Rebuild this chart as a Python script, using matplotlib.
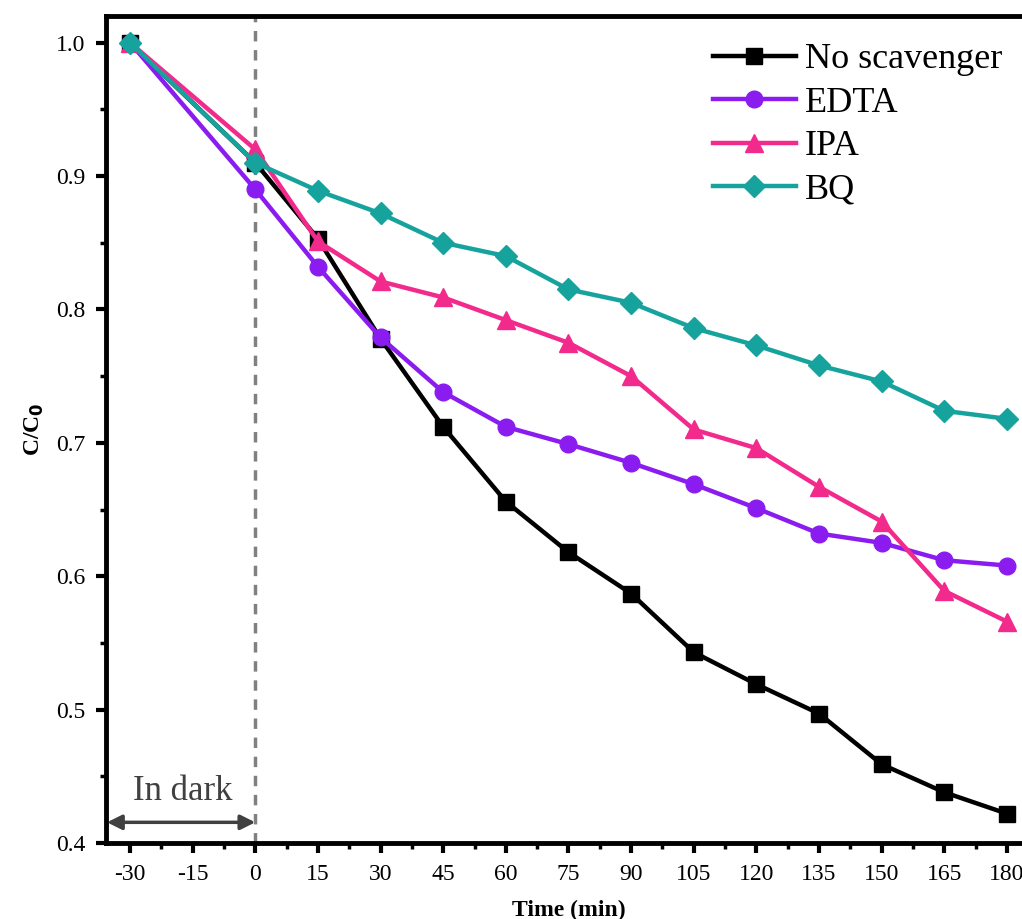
import numpy as np
import matplotlib.pyplot as plt
from matplotlib.ticker import MultipleLocator

plt.rcParams['font.family'] = ['Liberation Serif', 'DejaVu Serif']
plt.rcParams['axes.unicode_minus'] = False

# time axis (min)
time = [-30, 0, 15, 30, 45, 60, 75, 90, 105, 120, 135, 150, 165, 180]
xticks = [-30, -15, 0, 15, 30, 45, 60, 75, 90, 105, 120, 135, 150, 165, 180]

# C/C0 for each scavenger
no_scav = [1.0, 0.910, 0.853, 0.778, 0.712, 0.656, 0.618, 0.587, 0.543, 0.519, 0.497, 0.459, 0.438, 0.422]
edta = [1.0, 0.890, 0.832, 0.779, 0.738, 0.712, 0.699, 0.685, 0.669, 0.651, 0.632, 0.625, 0.612, 0.608]
ipa = [1.0, 0.920, 0.851, 0.821, 0.809, 0.792, 0.775, 0.750, 0.710, 0.696, 0.667, 0.641, 0.589, 0.566]
bq = [1.0, 0.910, 0.889, 0.872, 0.850, 0.840, 0.815, 0.805, 0.786, 0.773, 0.758, 0.746, 0.724, 0.718]

labels = ['No scavenger', 'EDTA', 'IPA', 'BQ']
colors = ['#000000', '#8B1CF0', '#F22A8C', '#17A39D']
markers = ['s', 'o', '^', 'D']

fig = plt.figure(figsize=(10.22, 9.19), dpi=100)
ax = fig.add_axes([106/1022, 76/919, 926/1022, 827/919])

series = [no_scav, edta, ipa, bq]
sizes = [11, 12, 13, 11]
for y, lab, c, m, ms in zip(series, labels, colors, markers, sizes):
    ax.plot(time, y, color=c, marker=m, markersize=ms, lw=3.2, label=lab,
            markeredgecolor=c, clip_on=False)

# light/dark boundary
ax.axvline(0, color='#808080', ls=(0, (3, 2.5)), lw=2.5, zorder=0)
ax.annotate('', xy=(-35.5, 0.4155), xytext=(0, 0.4155),
            arrowprops=dict(arrowstyle='<|-|>', color='#404040', lw=2.5,
                            mutation_scale=22, shrinkA=0, shrinkB=0))
ax.text(-17.3, 0.426, 'In dark', color='#404040', fontsize=25, ha='center', va='bottom')

ax.set_xlim(-35.75, 186)
ax.set_ylim(0.4, 1.02)
ax.set_xticks(xticks)
ax.xaxis.set_minor_locator(MultipleLocator(7.5))
ax.set_yticks([0.4, 0.5, 0.6, 0.7, 0.8, 0.9, 1.0])
ax.yaxis.set_minor_locator(MultipleLocator(0.05))
ax.tick_params(which='major', direction='out', length=7, width=3, labelsize=17)
ax.tick_params(which='minor', direction='out', length=4, width=2.5)
ax.tick_params(axis='x', pad=8)
ax.tick_params(axis='y', pad=8)
ax.set_yticklabels(['0.4', '0.5', '0.6', '0.7', '0.8', '0.9', '1.0'])
for s in ax.spines.values():
    s.set_linewidth(3.5)

ax.set_xlabel('Time (min)', fontsize=17, fontweight='bold', labelpad=11)
ax.set_ylabel('C/C$_\\mathbf{0}$', fontsize=17, fontweight='bold', labelpad=7)

ax.legend(loc='upper right', bbox_to_anchor=(0.997, 1.0), frameon=False,
          fontsize=26, handlelength=2.3, handletextpad=0.25, labelspacing=0.28,
          borderaxespad=0.35)

fig.savefig('out.png', dpi=100)
